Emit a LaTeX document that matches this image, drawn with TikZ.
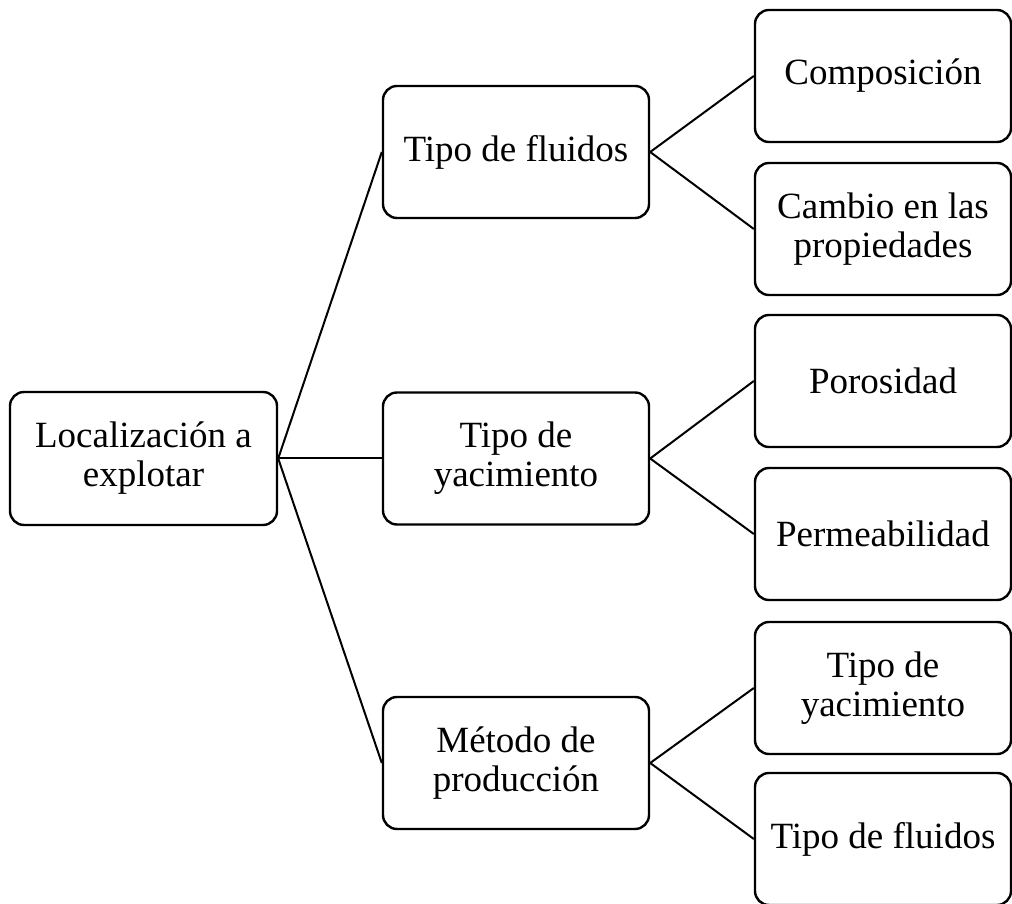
\documentclass[tikz,border=0pt]{standalone}
\usepackage{fontspec}
\setmainfont{Liberation Serif}
\begin{document}
\begin{tikzpicture}[x=1pt,y=1pt,
  box/.style={draw=black,line width=2.4pt,rounded corners=14pt,align=center,
    inner sep=0pt,font=\fontsize{37}{39}\selectfont},
  midbox/.style={box,minimum width=266pt,minimum height=132pt},
  rbox/.style={box,minimum width=256pt,minimum height=132pt},
  link/.style={draw=black,line width=2pt}]
\clip (0,0) rectangle (1012,903);
\node[midbox,minimum width=267pt,minimum height=133pt] (root) at (143.5,444.5) {Localización a\\explotar};
\node[midbox] (m1) at (516,751) {Tipo de fluidos};
\node[midbox] (m2) at (516,444.5) {Tipo de\\yacimiento};
\node[midbox] (m3) at (516,140) {Método de\\producción};
\node[rbox] (r1) at (883,827) {Composición};
\node[rbox] (r2) at (883,674) {Cambio en las\\propiedades};
\node[rbox] (r3) at (883,522) {Porosidad};
\node[rbox] (r4) at (883,369) {Permeabilidad};
\node[rbox] (r5) at (883,215) {Tipo de\\yacimiento};
\node[rbox] (r6) at (883,64) {Tipo de fluidos};
\draw[link] (root.east) -- (m1.west);
\draw[link] (root.east) -- (m2.west);
\draw[link] (root.east) -- (m3.west);
\draw[link] (m1.east) -- (r1.west);
\draw[link] (m1.east) -- (r2.west);
\draw[link] (m2.east) -- (r3.west);
\draw[link] (m2.east) -- (r4.west);
\draw[link] (m3.east) -- (r5.west);
\draw[link] (m3.east) -- (r6.west);
\end{tikzpicture}
\end{document}
